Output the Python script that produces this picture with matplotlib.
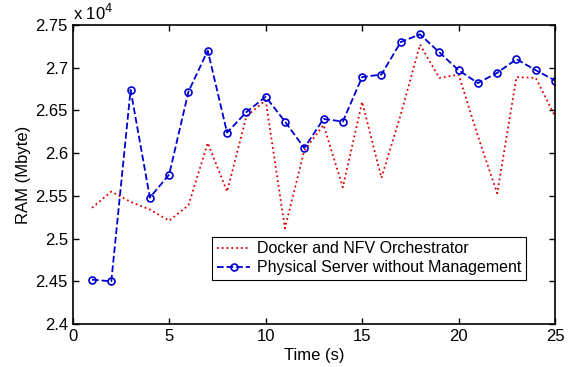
import matplotlib
matplotlib.use("Agg")
import matplotlib.pyplot as plt
import numpy as np

plt.rcParams['font.family'] = ['Liberation Sans', 'DejaVu Sans']

# time in seconds
t = np.arange(1, 26)

# RAM usage (Mbyte)
docker_nfv = [25360, 25550, 25430, 25340, 25210, 25390, 26120, 25550, 26430, 26620,
              25120, 26030, 26330, 25600, 26600, 25710, 26450, 27270, 26880, 26920,
              26200, 25530, 26890, 26880, 26430]
physical = [24520, 24500, 26740, 25480, 25750, 26720, 27200, 26240, 26480, 26660,
            26370, 26060, 26400, 26370, 26890, 26920, 27300, 27390, 27180, 26970,
            26820, 26940, 27100, 26970, 26850]

scale = 1e4

fig = plt.figure(figsize=(5.77, 3.67), dpi=100)
ax = fig.add_axes([0.126, 0.117, 0.836, 0.815])

ax.plot(t, np.array(docker_nfv) / scale, ':', color='#e00000', lw=1.3,
        label='Docker and NFV Orchestrator')
ax.plot(t, np.array(physical) / scale, '--o', color='#0000d0', lw=1.3,
        markersize=5, markerfacecolor='none', markeredgewidth=1.2,
        label='Physical Server without Management')

ax.set_xlim(0, 25)
ax.set_ylim(2.4, 2.75)
ax.set_xticks([0, 5, 10, 15, 20, 25])
ax.set_yticks([2.4, 2.45, 2.5, 2.55, 2.6, 2.65, 2.7, 2.75])
ax.set_yticklabels(['2.4', '2.45', '2.5', '2.55', '2.6', '2.65', '2.7', '2.75'])

ax.tick_params(direction='in', top=True, right=True, labelsize=12, length=4, width=1)
for s in ax.spines.values():
    s.set_linewidth(1.2)

ax.set_xlabel('Time (s)', fontsize=12, labelpad=3)
ax.set_ylabel('RAM (Mbyte)', fontsize=12, labelpad=3)
ax.text(0.0, 1.005, 'x 10$^4$', transform=ax.transAxes, fontsize=12,
        ha='left', va='bottom')

leg = ax.legend(loc='lower left', bbox_to_anchor=(0.289, 0.147), fontsize=11.5,
                fancybox=False, edgecolor='black', framealpha=1,
                borderpad=0.3, labelspacing=0.25, handlelength=2.1,
                handletextpad=0.4, borderaxespad=0)
leg.get_frame().set_linewidth(0.8)

fig.savefig('out.png', dpi=100)
